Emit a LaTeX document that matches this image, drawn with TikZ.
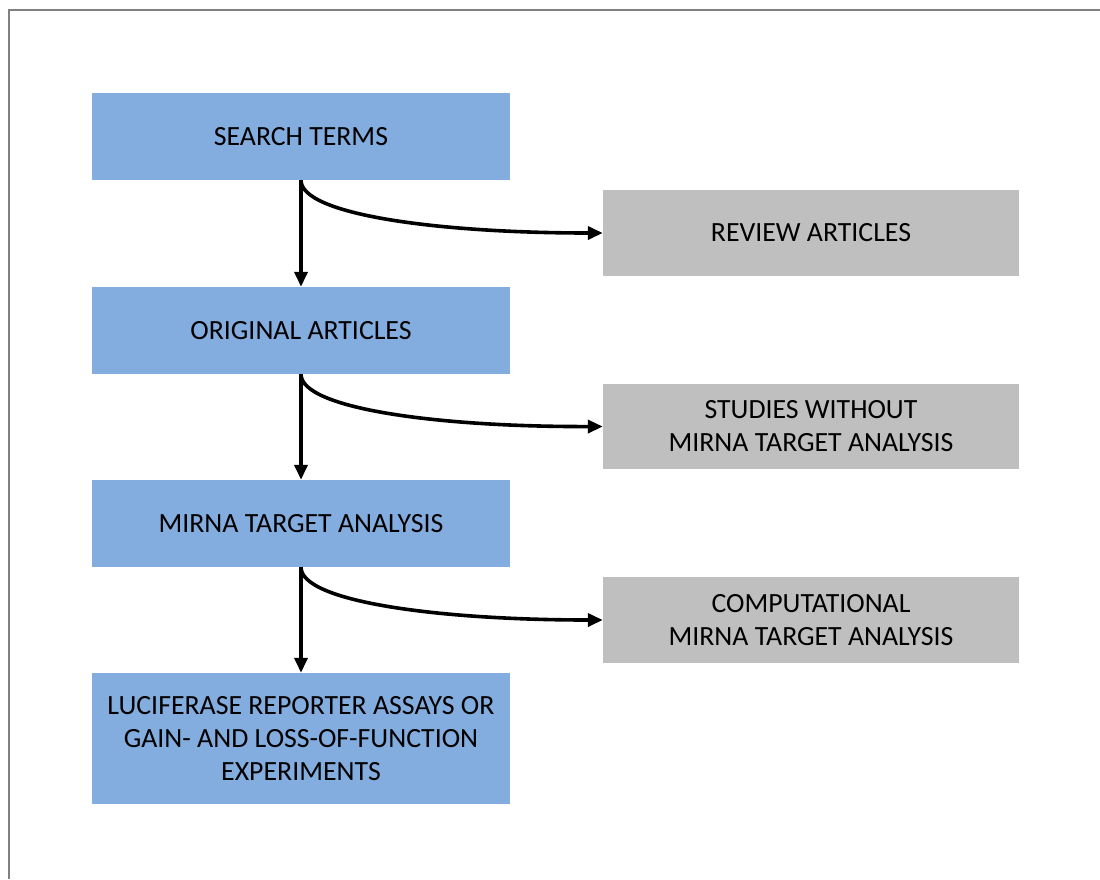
\documentclass[tikz,border=0pt]{standalone}
\usepackage{fontspec}
\setmainfont{Carlito}
\usetikzlibrary{arrows.meta}
\definecolor{boxblue}{RGB}{131,172,223}
\definecolor{boxgray}{RGB}{191,191,191}
\definecolor{framegray}{RGB}{128,128,128}
\tikzset{
  mainbox/.style={fill=boxblue, draw=none, minimum width=418pt, minimum height=87pt, inner sep=0pt, align=center, font=\fontsize{27.8}{33}\selectfont},
  sidebox/.style={fill=boxgray, draw=none, minimum width=416pt, minimum height=86pt, inner sep=0pt, align=center, font=\fontsize{27.8}{33}\selectfont},
  conn/.style={line width=3.6pt, -{Triangle[length=15pt,width=13pt]}},
}
\begin{document}
\begin{tikzpicture}[x=1pt,y=-1pt]
\useasboundingbox (0,0) rectangle (1100,879);
\draw[framegray, line width=2.5pt] (9,879) -- (9,10) -- (1100,10);
\node[mainbox] (st) at (301,136.5) {SEARCH TERMS};
\node[mainbox] (oa) at (301,330.5) {ORIGINAL ARTICLES};
\node[mainbox] (mt) at (301,523.5) {MIRNA TARGET ANALYSIS};
\node[mainbox, minimum height=131pt] (lr) at (301,738.5) {LUCIFERASE REPORTER ASSAYS OR\\GAIN- AND LOSS-OF-FUNCTION\\EXPERIMENTS};
\node[sidebox] (ra) at (811,233) {REVIEW ARTICLES};
\node[sidebox, minimum height=85pt] (sw) at (811,426.5) {STUDIES WITHOUT\\MIRNA TARGET ANALYSIS};
\node[sidebox] (ca) at (811,620) {COMPUTATIONAL\\MIRNA TARGET ANALYSIS};
\draw[conn] (st.south) -- (oa.north);
\draw[conn] (oa.south) -- (mt.north);
\draw[conn] (mt.south) -- (lr.north);
\draw[conn] (st.south) .. controls (301,215) and (440,233) .. (ra.west);
\draw[conn] (oa.south) .. controls (301,409) and (440,427) .. (sw.west);
\draw[conn] (mt.south) .. controls (301,602) and (440,620) .. (ca.west);
\end{tikzpicture}
\end{document}
